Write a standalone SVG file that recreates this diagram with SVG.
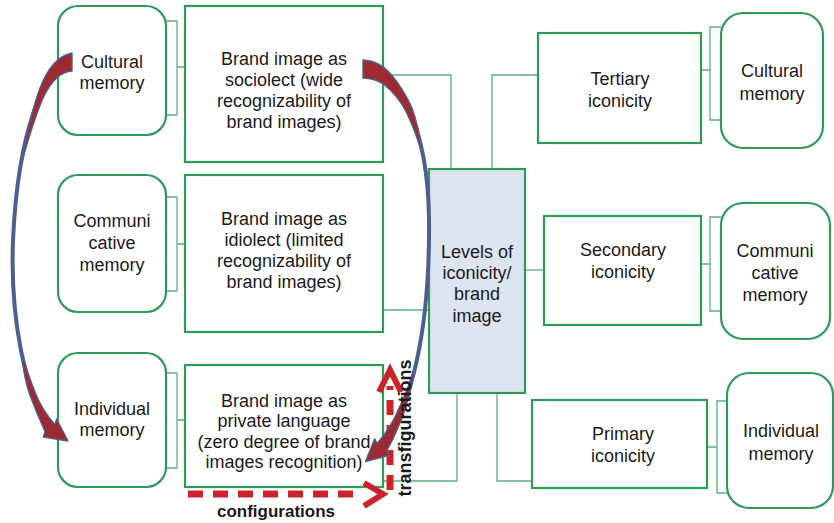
<svg xmlns="http://www.w3.org/2000/svg" width="834" height="523" viewBox="0 0 834 523">
  <style>
    .box { fill: #ffffff; stroke: #2f9a57; stroke-width: 2.2; }
    .core { fill: #dce4ef; stroke: #2f9a57; stroke-width: 2.2; }
    .link { fill: none; stroke: #5fae80; stroke-width: 1.3; }
    .lbl { font-family: "Liberation Sans", Arial, sans-serif; font-size: 18px; fill: #1a1a1a; text-anchor: middle; }
    .bold { font-family: "Liberation Sans", Arial, sans-serif; font-weight: bold; fill: #1a1a1a; text-anchor: middle; }
    .spine { fill: none; stroke: #4d5f91; stroke-width: 4; stroke-linecap: round; }
    .ribbon { fill: #9e2a30; stroke: #4d5f91; stroke-width: 1.4; stroke-linejoin: round; }
    .dash { fill: none; stroke: #cc232b; stroke-width: 7; stroke-dasharray: 15 10; }
    .chev { fill: none; stroke: #cc232b; stroke-width: 6; stroke-linejoin: miter; }
  </style>

  <!-- connectors between boxes -->
  <g id="connectors">
    <path class="link" d="M383,75 H451 V169"/>
    <path class="link" d="M492,169 V75 H538"/>
    <path class="link" d="M383,310 H429"/>
    <path class="link" d="M525,270 H544"/>
    <path class="link" d="M383,481 H457 V393"/>
    <path class="link" d="M497,393 V481 H532"/>
    <!-- brackets joining memories to their brand-image level -->
    <path class="link" d="M166,21 H177 V115 H166 M177,67 H185"/>
    <path class="link" d="M166,197 H177 V291 H166 M177,244 H185"/>
    <path class="link" d="M166,373 H177 V468 H166 M177,420 H185"/>
    <path class="link" d="M721,27 H710 V120 H721 M710,70 H701"/>
    <path class="link" d="M721,217 H710 V311 H721 M710,264 H701"/>
    <path class="link" d="M727,401 H717 V493 H727 M717,447 H707"/>
  </g>

  <!-- left column: memories -->
  <g id="cultural-memory-left">
    <rect class="box" x="58" y="6" width="108" height="129" rx="20"/>
    <text class="lbl" x="112" y="68">Cultural</text>
    <text class="lbl" x="112" y="89">memory</text>
  </g>
  <g id="communicative-memory-left">
    <rect class="box" x="58" y="175" width="108" height="137" rx="20"/>
    <text class="lbl" x="112" y="227">Communi</text>
    <text class="lbl" x="112" y="249">cative</text>
    <text class="lbl" x="112" y="271">memory</text>
  </g>
  <g id="individual-memory-left">
    <rect class="box" x="58" y="353" width="108" height="134" rx="20"/>
    <text class="lbl" x="112" y="415">Individual</text>
    <text class="lbl" x="112" y="436">memory</text>
  </g>

  <!-- brand-image levels -->
  <g id="sociolect">
    <rect class="box" x="185" y="6" width="198" height="156"/>
    <text class="lbl" x="284" y="65">Brand image as</text>
    <text class="lbl" x="284" y="86">sociolect (wide</text>
    <text class="lbl" x="284" y="107">recognizability of</text>
    <text class="lbl" x="284" y="128">brand images)</text>
  </g>
  <g id="idiolect">
    <rect class="box" x="185" y="175" width="198" height="157"/>
    <text class="lbl" x="284" y="225">Brand image as</text>
    <text class="lbl" x="284" y="246">idiolect (limited</text>
    <text class="lbl" x="284" y="267">recognizability of</text>
    <text class="lbl" x="284" y="288">brand images)</text>
  </g>
  <g id="private-language">
    <rect class="box" x="185" y="365" width="198" height="122"/>
    <text class="lbl" x="284" y="407">Brand image as</text>
    <text class="lbl" x="284" y="427">private language</text>
    <text class="lbl" x="284" y="448">(zero degree of brand</text>
    <text class="lbl" x="284" y="468">images recognition)</text>
  </g>

  <!-- centre -->
  <g id="levels">
    <rect class="core" x="429" y="169" width="96" height="224"/>
    <text class="lbl" x="477" y="258">Levels of</text>
    <text class="lbl" x="477" y="279">iconicity/</text>
    <text class="lbl" x="477" y="300">brand</text>
    <text class="lbl" x="477" y="322">image</text>
  </g>

  <!-- iconicity levels -->
  <g id="tertiary">
    <rect class="box" x="538" y="33" width="163" height="110"/>
    <text class="lbl" x="620" y="85">Tertiary</text>
    <text class="lbl" x="620" y="107">iconicity</text>
  </g>
  <g id="secondary">
    <rect class="box" x="544" y="216" width="157" height="109"/>
    <text class="lbl" x="623" y="256">Secondary</text>
    <text class="lbl" x="623" y="278">iconicity</text>
  </g>
  <g id="primary">
    <rect class="box" x="532" y="400" width="175" height="88"/>
    <text class="lbl" x="623" y="440">Primary</text>
    <text class="lbl" x="623" y="462">iconicity</text>
  </g>

  <!-- right column: memories -->
  <g id="cultural-memory-right">
    <rect class="box" x="721" y="13" width="102" height="135" rx="22"/>
    <text class="lbl" x="772" y="77">Cultural</text>
    <text class="lbl" x="772" y="100">memory</text>
  </g>
  <g id="communicative-memory-right">
    <rect class="box" x="721" y="203" width="109" height="136" rx="22"/>
    <text class="lbl" x="775" y="257">Communi</text>
    <text class="lbl" x="775" y="279">cative</text>
    <text class="lbl" x="775" y="301">memory</text>
  </g>
  <g id="individual-memory-right">
    <rect class="box" x="727" y="373" width="106" height="135" rx="22"/>
    <text class="lbl" x="781" y="437">Individual</text>
    <text class="lbl" x="781" y="460">memory</text>
  </g>

  <!-- configurations / transfigurations axes -->
  <g id="configurations">
    <line class="dash" x1="188" y1="494" x2="362" y2="494"/>
    <polyline class="chev" points="364,483 383,494 364,506"/>
    <text class="bold" x="276" y="517" font-size="17">configurations</text>
  </g>
  <g id="transfigurations-axis">
    <line class="dash" x1="390" y1="490" x2="390" y2="386"/>
    <polyline class="chev" points="379,392 390,370 401,392"/>
  </g>

  <!-- curved flows between the memory columns: thin spine, widening red ends -->
  <g id="flow-left">
    <path class="spine" d="M70,62 C45,66 18,130 13,240 C10,320 25,392 50,428"/>
    <path class="ribbon" d="M72,53 Q52,57 40,88 Q30,115 20.5,167 Q34,118 44,96 Q56,72 72,71 Z"/>
    <path class="ribbon" d="M21,350 Q24,380 30.4,396.5 Q37,414 45,431.4 L43.4,437 L68,441 L56.6,419 L55,424.6 Q42,410 35.6,393.5 Q28,375 21,350 Z"/>
  </g>
  <g id="flow-right">
    <path class="spine" d="M365,69 C398,71 428,125 429,220 C430,330 412,405 382,447"/>
    <path class="ribbon" d="M363,60 Q380,61 391.6,75 Q404,90 412,108 Q419,127 423,157 Q416,132 406,111.5 Q398,96 384.4,84.8 Q375,78 363,78 Z"/>
    <path class="ribbon" d="M417,359 Q412,388 404.7,410.4 Q397,432 386.9,450.5 L389.3,455.3 L365.5,461.5 L374.7,438.8 L377.1,443.5 Q391,428 399.3,407.6 Q410,385 417,359 Z"/>
  </g>

  <g id="transfigurations-label">
    <text class="bold" font-size="18" transform="translate(411,428) rotate(-90)">transfigurations</text>
  </g>
</svg>
